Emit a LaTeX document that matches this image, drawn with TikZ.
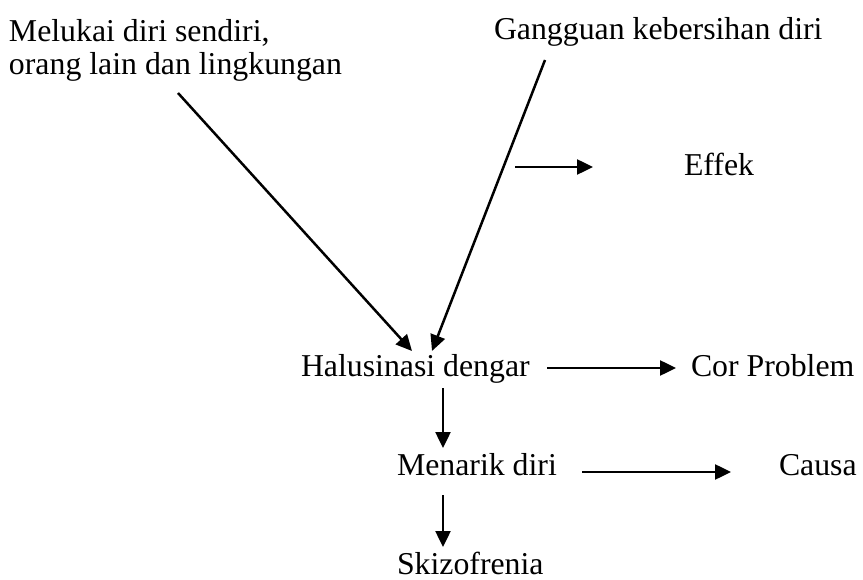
\documentclass[tikz,border=0pt]{standalone}
\usepackage{fontspec}
\setmainfont{Liberation Serif}
\usetikzlibrary{arrows.meta}
\begin{document}
\begin{tikzpicture}[x=1pt,y=-1pt,
  lbl/.style={anchor=base west,inner sep=0pt,outer sep=0pt,font=\fontsize{31.8}{34}\selectfont},
  arr/.style={line width=2.5pt,-{Triangle[length=16pt,width=15pt]}}]
\useasboundingbox (0,0) rectangle (863,580);
\node[lbl] (mel1) at (9,42) {Melukai diri sendiri,};
\node[lbl] (mel2) at (9,75) {orang lain dan lingkungan};
\node[lbl] (gang) at (494,40) {Gangguan kebersihan diri};
\node[lbl] (effek) at (684,176) {Effek};
\node[lbl] (halu) at (301,377) {Halusinasi dengar};
\node[lbl] (cor) at (691,377) {Cor Problem};
\node[lbl] (men) at (397,475) {Menarik diri};
\node[lbl] (causa) at (779,475) {Causa};
\node[lbl] (skiz) at (397,574) {Skizofrenia};
% connector end points
\coordinate (a1s) at (178,93);
\coordinate (a1e) at (412,351);
\coordinate (a2s) at (545,60);
\coordinate (a2e) at (432,351);
\coordinate (es) at (515,167);
\coordinate (ee) at (593,167);
\coordinate (hs) at (547,368);
\coordinate (he) at (676,368);
\coordinate (d1s) at (443,388);
\coordinate (d1e) at (443,448);
\coordinate (ms) at (582,472);
\coordinate (me) at (731,472);
\coordinate (d2s) at (443,495);
\coordinate (d2e) at (443,547);
\draw[arr] (a1s) -- (a1e);
\draw[arr] (a2s) -- (a2e);
\draw[arr] (es) -- (ee);
\draw[arr] (hs) -- (he);
\draw[arr] (d1s) -- (d1e);
\draw[arr] (ms) -- (me);
\draw[arr] (d2s) -- (d2e);
\end{tikzpicture}
\end{document}
